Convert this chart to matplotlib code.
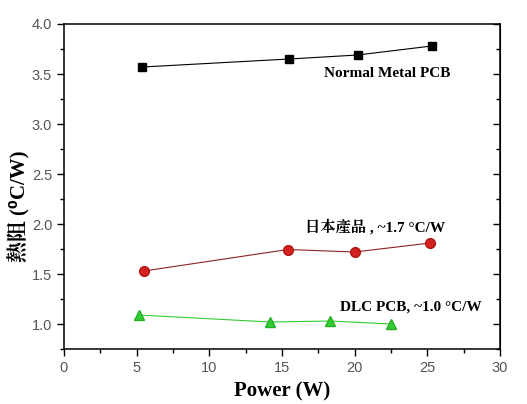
import matplotlib.pyplot as plt
from matplotlib.ticker import MultipleLocator

# data
power_metal = [5.4, 15.5, 20.2, 25.3]
rth_metal = [3.57, 3.65, 3.69, 3.78]

power_jp = [5.5, 15.4, 20.0, 25.2]
rth_jp = [1.53, 1.745, 1.72, 1.81]

power_dlc = [5.15, 14.2, 18.3, 22.5]
rth_dlc = [1.09, 1.02, 1.03, 1.00]

serif = ['Liberation Serif', 'Noto Serif CJK TC', 'Noto Sans CJK TC', 'DejaVu Sans']

fig = plt.figure(figsize=(5.27, 4.04), dpi=100)
ax = fig.add_axes([0.1214, 0.1361, 0.8274, 0.8045])

ax.plot(power_metal, rth_metal, color='black', lw=0.8, marker='s', ms=6,
        mfc='black', mec='black')
ax.plot(power_jp, rth_jp, color='#8b2323', lw=0.8, marker='o', ms=7,
        mfc='#d42020', mec='#b01515')
ax.plot(power_dlc, rth_dlc, color='#33cc33', lw=0.8, marker='^', ms=7,
        mfc='#33cc33', mec='#22b022')

ax.set_xlim(0, 30)
ax.set_ylim(0.75, 4.0)
ax.xaxis.set_major_locator(MultipleLocator(5))
ax.xaxis.set_minor_locator(MultipleLocator(2.5))
ax.yaxis.set_major_locator(MultipleLocator(0.5))
ax.yaxis.set_minor_locator(MultipleLocator(0.25))
ax.yaxis.set_major_formatter(plt.FormatStrFormatter('%.1f'))

for s in ax.spines.values():
    s.set_linewidth(1.1)

ax.tick_params(axis='both', which='both', direction='out', labelsize=10.5,
               labelcolor='#555555', width=1.0)
ax.tick_params(which='major', length=5)
ax.tick_params(which='minor', length=3)
for t in ax.get_xticklabels() + ax.get_yticklabels():
    t.set_family('Liberation Sans')

# right-side ticks point inward
ax2 = ax.secondary_yaxis('right')
ax2.yaxis.set_major_locator(MultipleLocator(0.5))
ax2.yaxis.set_minor_locator(MultipleLocator(0.25))
ax2.tick_params(which='both', direction='in', labelright=False, width=1.0)
ax2.tick_params(which='major', length=5)
ax2.tick_params(which='minor', length=3)

ax.set_xlabel('Power (W)', family=serif, fontsize=15, fontweight='bold', labelpad=5)
ax.set_ylabel('熱阻 (⁰C/W)', family=serif, fontsize=15, fontweight='bold')
ax.yaxis.set_label_coords(-0.077, 0.44)

ax.text(17.9, 3.47, 'Normal Metal PCB', family=serif, fontsize=11, fontweight='bold')
ax.text(16.6, 1.92, '日本產品 , ~1.7 °C/W', family=serif, fontsize=11, fontweight='bold')
ax.text(19.0, 1.13, 'DLC PCB, ~1.0 °C/W', family=serif, fontsize=11, fontweight='bold')

fig.savefig('out.png', dpi=100)
